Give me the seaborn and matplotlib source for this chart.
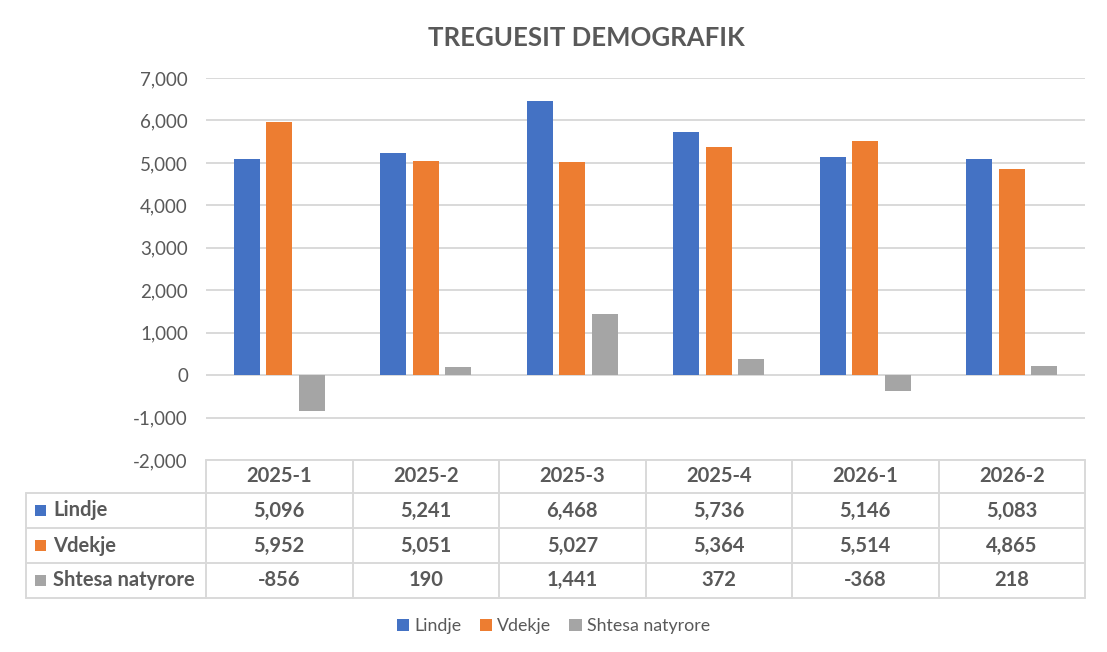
import matplotlib
matplotlib.use("Agg")
import matplotlib.pyplot as plt
import seaborn as sns
import pandas as pd
from matplotlib.patches import Patch, Rectangle

# --- data ---
periods = ["2025-1", "2025-2", "2025-3", "2025-4", "2026-1", "2026-2"]
series_names = ["Lindje", "Vdekje", "Shtesa natyrore"]
lindje = [5096, 5241, 6468, 5736, 5146, 5083]
vdekje = [5952, 5051, 5027, 5364, 5514, 4865]
shtesa = [-856, 190, 1441, 372, -368, 218]
y_ticks = [-2000, -1000, 0, 1000, 2000, 3000, 4000, 5000, 6000, 7000]

COLORS = ["#4472C4", "#ED7D31", "#A5A5A5"]
TXT = "#595959"
GRID = "#D9D9D9"

W, H = 1107, 652

sns.set_theme(style="white")
plt.rcParams["font.family"] = ["Lato", "DejaVu Sans"]

df = pd.DataFrame({
    "period": periods * 3,
    "series": [s for s in series_names for _ in periods],
    "value": lindje + vdekje + shtesa,
})

fig = plt.figure(figsize=(W / 100, H / 100), dpi=100)
ax = fig.add_axes([206 / W, (H - 460) / H, (1085 - 206) / W, (460 - 78) / H])

sns.barplot(data=df, x="period", y="value", hue="series", hue_order=series_names,
            palette=COLORS, width=0.666, dodge=True, ax=ax, legend=False,
            saturation=1, errorbar=None)

# thin the bars, keep their centres (Excel-style gap between bars)
for p in ax.patches:
    c = p.get_x() + p.get_width() / 2
    p.set_width(0.177)
    p.set_x(c - 0.177 / 2)
    p.set_linewidth(0)

ax.set_ylim(-2000, 7000)
ax.set_xlim(-0.5, len(periods) - 0.5)
ax.set_yticks(y_ticks)
ax.set_yticklabels([f"{v:,}" for v in y_ticks], color=TXT, fontsize=13.5)
ax.tick_params(axis="y", length=0, pad=13)
ax.set_xticks([])
ax.set_xlabel("")
ax.set_ylabel("")
for s in ax.spines.values():
    s.set_visible(False)
for t in y_ticks:
    ax.axhline(t, color=GRID, lw=1.4, zorder=0)
ax.set_axisbelow(True)

# --- title ---
fig.text(586 / W, 1 - 38 / H, "TREGUESIT DEMOGRAFIK", ha="center", va="center",
         fontsize=18.5, fontweight="bold", color=TXT)

# --- data table (pixel coords overlay) ---
tab = fig.add_axes([0, 0, 1, 1], facecolor="none")
tab.set_xlim(0, W)
tab.set_ylim(H, 0)
tab.axis("off")

col_edges = [206 + i * (1085 - 206) / len(periods) for i in range(len(periods) + 1)]
row_edges = [460, 493, 528, 563, 597.5]
left = 26
lw = 1.4
FS = 14.5

tab.plot([col_edges[0], col_edges[-1]], [row_edges[0]] * 2, color=GRID, lw=lw)
for y in row_edges[1:]:
    tab.plot([left, col_edges[-1]], [y, y], color=GRID, lw=lw)
tab.plot([left, left], [row_edges[1], row_edges[-1]], color=GRID, lw=lw)
for x in col_edges:
    tab.plot([x, x], [row_edges[0], row_edges[-1]], color=GRID, lw=lw)

for i, p in enumerate(periods):
    xc = (col_edges[i] + col_edges[i + 1]) / 2
    tab.text(xc, (row_edges[0] + row_edges[1]) / 2, p, ha="center", va="center",
             fontsize=FS, fontweight="bold", color=TXT)

for r, (name, vals) in enumerate(zip(series_names, [lindje, vdekje, shtesa])):
    yc = (row_edges[r + 1] + row_edges[r + 2]) / 2
    tab.add_patch(Rectangle((35, yc - 5.5), 11, 11, color=COLORS[r], lw=0))
    tab.text(53, yc, name, ha="left", va="center", fontsize=FS,
             fontweight="bold", color=TXT)
    for i, v in enumerate(vals):
        xc = (col_edges[i] + col_edges[i + 1]) / 2
        tab.text(xc, yc, f"{v:,}", ha="center", va="center", fontsize=FS,
                 fontweight="bold", color=TXT)

# --- legend ---
handles = [Patch(facecolor=c, edgecolor="none", label=n) for c, n in zip(COLORS, series_names)]
fig.legend(handles=handles, loc="center", bbox_to_anchor=(553.5 / W, 1 - 626 / H),
           ncol=3, frameon=False, fontsize=12.8, handlelength=0.7, handleheight=0.7,
           handletextpad=0.3, columnspacing=1.0, labelcolor=TXT)

fig.savefig("out.png", dpi=100)
